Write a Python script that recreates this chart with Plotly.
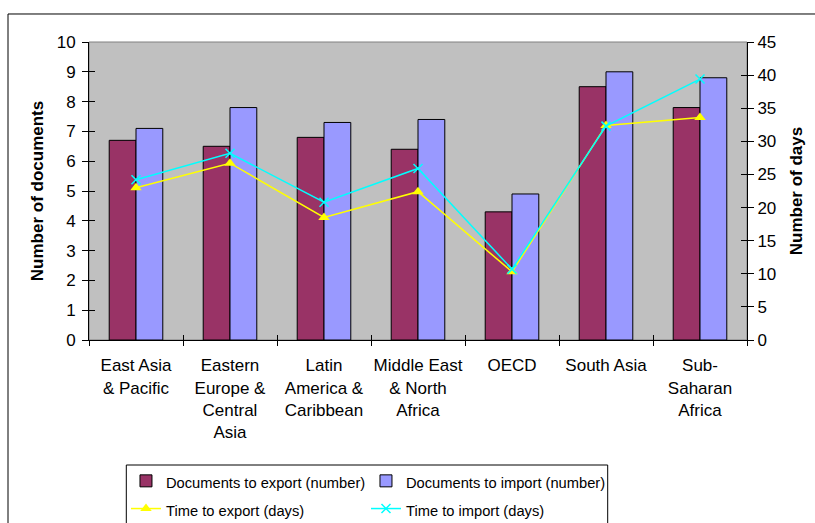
import plotly.graph_objects as go

categories = ["East Asia<br>& Pacific", "Eastern<br>Europe &<br>Central<br>Asia",
              "Latin<br>America &<br>Caribbean", "Middle East<br>& North<br>Africa",
              "OECD", "South Asia", "Sub-<br>Saharan<br>Africa"]
docs_export = [6.7, 6.5, 6.8, 6.4, 4.3, 8.5, 7.8]
docs_import = [7.1, 7.8, 7.3, 7.4, 4.9, 9.0, 8.8]
time_export = [23.0, 26.7, 18.5, 22.4, 10.3, 32.4, 33.6]
time_import = [24.2, 28.2, 20.8, 25.9, 10.7, 32.3, 39.4]

FONT = "Liberation Sans, Arial, sans-serif"

def leg(s):
    return '<span style="font-size:14.7px">' + s + '</span>'

fig = go.Figure()
fig.add_trace(go.Bar(x=categories, y=docs_export, name=leg("Documents to export (number)"),
                     legendgroup="exp", legendwidth=195,
                     marker=dict(color="#993366", line=dict(color="black", width=1))))
fig.add_trace(go.Bar(x=categories, y=docs_import, name=leg("Documents to import (number)"),
                     legendgroup="imp", legendwidth=230,
                     marker=dict(color="#9999FF", line=dict(color="black", width=1))))
fig.add_trace(go.Scatter(x=categories, y=time_export, name=leg("Time to export (days)"), yaxis="y2",
                         legendgroup="exp", legendwidth=195, mode="lines+markers",
                         line=dict(color="#FFFF00", width=1.5),
                         marker=dict(symbol="triangle-up", size=10, color="#FFFF00")))
fig.add_trace(go.Scatter(x=categories, y=time_import, name=leg("Time to import (days)"), yaxis="y2",
                         legendgroup="imp", legendwidth=230, mode="lines+markers",
                         line=dict(color="#00FFFF", width=1.5),
                         marker=dict(symbol="x-thin", size=9, color="#00FFFF",
                                     line=dict(color="#00FFFF", width=1.5))))
# helper traces for inner tick halves
fig.add_trace(go.Scatter(x=[None], y=[None], xaxis="x2", yaxis="y3", showlegend=False, hoverinfo="skip"))
fig.add_trace(go.Scatter(x=[None], y=[None], xaxis="x2", yaxis="y4", showlegend=False, hoverinfo="skip"))

fig.update_layout(
    width=815, height=523,
    margin=dict(l=89, r=68, t=42, b=183, autoexpand=False),
    paper_bgcolor="white", plot_bgcolor="#C0C0C0",
    font=dict(family=FONT, size=17, color="black"),
    barmode="group", bargap=0.43, bargroupgap=0,
    showlegend=True,
    legend=dict(orientation="h", x=0.0562, y=-0.4094, xanchor="left", yanchor="top",
                bgcolor="rgba(0,0,0,0)", borderwidth=0,
                font=dict(size=19, family=FONT), tracegroupgap=0, traceorder="grouped",
                entrywidthmode="pixels"),
    xaxis=dict(type="category", range=[-0.5, 6.5], tickson="boundaries", ticks="outside",
               ticklen=5, tickcolor="black", showline=True, linecolor="black", linewidth=1,
               showgrid=False, tickfont=dict(size=17), ticklabelstandoff=10, tickangle=0),
    xaxis2=dict(overlaying="x", range=[-0.5, 6.5], tickvals=[0.5, 1.5, 2.5, 3.5, 4.5, 5.5],
                ticks="inside", ticklen=5, tickcolor="black", showticklabels=False,
                showgrid=False, zeroline=False, showline=False, anchor="y3"),
    yaxis=dict(range=[0, 10], dtick=1, ticks="outside", ticklen=6, tickcolor="black",
               showline=True, linecolor="black", showgrid=False, zeroline=False,
               tickfont=dict(size=17), ticklabelstandoff=3,
               title=dict(text="<b>Number of documents</b>", font=dict(size=17), standoff=8)),
    yaxis2=dict(overlaying="y", side="right", range=[0, 45], dtick=5, ticks="outside",
                ticklen=6, tickcolor="black", showline=True, linecolor="black",
                showgrid=False, zeroline=False, tickfont=dict(size=17),
                title=dict(text="<b>Number of days</b>", font=dict(size=17), standoff=14)),
    yaxis3=dict(overlaying="y", side="left", range=[0, 10], dtick=1, ticks="inside", ticklen=6,
                tickcolor="black", showticklabels=False, showgrid=False, zeroline=False,
                showline=False),
    yaxis4=dict(overlaying="y", side="right", range=[0, 45], dtick=5, ticks="inside", ticklen=6,
                tickcolor="black", showticklabels=False, showgrid=False, zeroline=False,
                showline=False),
    shapes=[
        dict(type="rect", xref="paper", yref="paper", x0=0, x1=1, y0=0, y1=1,
             line=dict(color="#808080", width=1), fillcolor="rgba(0,0,0,0)", layer="below"),
        dict(type="rect", xref="paper", yref="paper", x0=-0.1231, x1=1.12, y0=-0.66, y1=1.094,
             line=dict(color="black", width=1), fillcolor="rgba(0,0,0,0)", layer="below"),
        dict(type="rect", xref="paper", yref="paper", x0=0.0567, x1=0.7883, y0=-0.64, y1=-0.4195,
             line=dict(color="black", width=1), fillcolor="white", layer="below"),
    ],
)

fig.write_html("out.html")
